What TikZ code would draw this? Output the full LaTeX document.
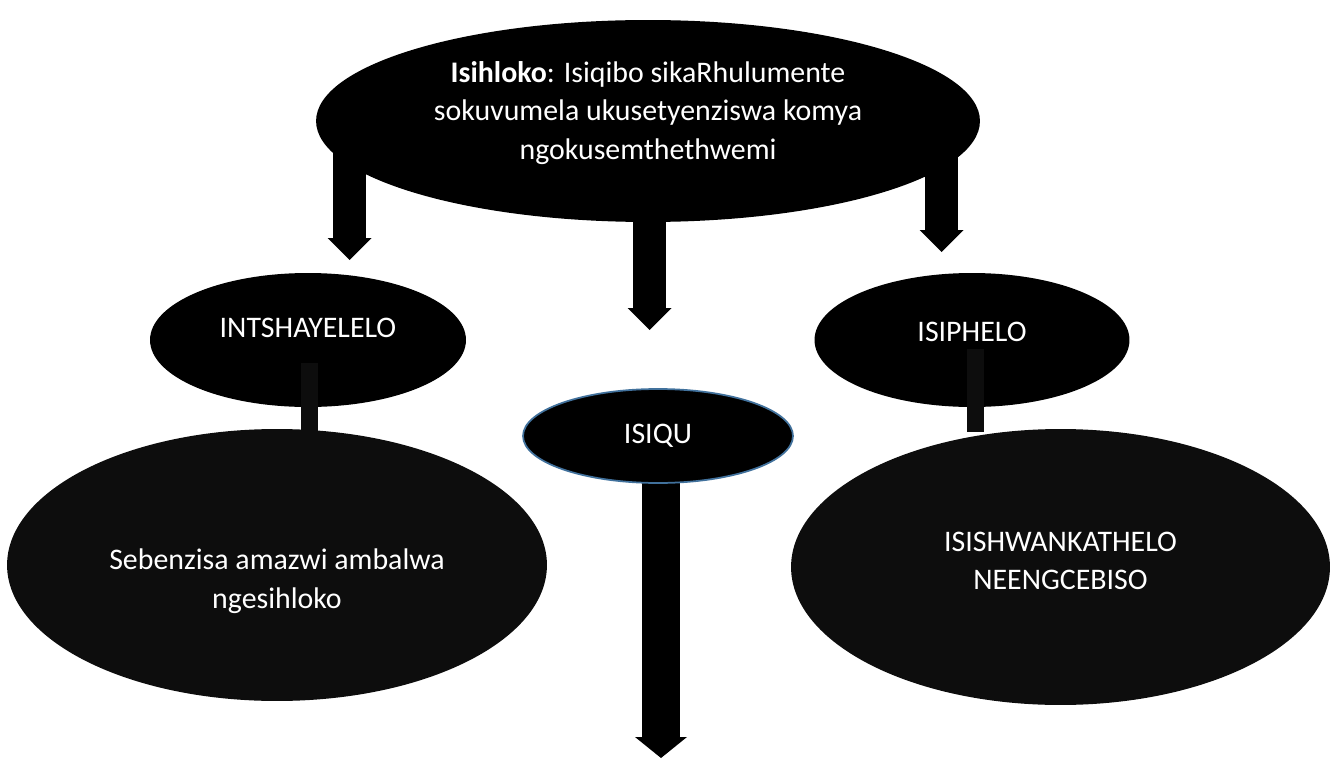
\documentclass[tikz,border=0pt]{standalone}
\usepackage{fontspec}
\setmainfont{Carlito}
\usetikzlibrary{shapes.geometric}
\usetikzlibrary{arrows.meta}
\usetikzlibrary{calc}
\usetikzlibrary{backgrounds}

\definecolor{ink}{HTML}{0D0D0D}
\definecolor{rim}{HTML}{41719C}

\tikzset{
  blob/.style={ellipse,fill=black,inner sep=0pt},
  bigblob/.style={blob,fill=ink},
  word/.style={text=white,inner sep=0pt,align=center,
    font=\fontsize{17}{22}\selectfont},
  fatarrow/.style={line width=0.66cm,
    -{Triangle[length=0.44cm,width=0.88cm,line width=0pt]}},
  downarrow/.style={line width=0.76cm,
    -{Triangle[length=0.42cm,width=1.04cm,line width=0pt]}},
  stem/.style={draw=ink,line width=0.34cm},
}

\begin{document}
\begin{tikzpicture}[x=0.02cm,y=-0.02cm]
  \useasboundingbox (0,0) rectangle (1338,760);

  % ellipses
  \node [blob,minimum width=13.28cm,minimum height=4.04cm] (topic) at (648,121) {};
  \node [blob,minimum width=6.32cm,minimum height=2.68cm] (intro) at (308,340) {};
  \node [blob,minimum width=6.3cm,minimum height=2.68cm] (ending) at (972,340) {};
  \node [blob,draw=rim,line width=0.035cm,minimum width=5.4cm,minimum height=1.88cm] (isiqu) at (658,436) {};
  \node [bigblob,minimum width=10.8cm,minimum height=5.44cm] (introbody) at (277,565) {};
  \node [bigblob,minimum width=10.78cm,minimum height=5.52cm] (endbody) at (1060.5,567) {};

  % texts
  \node [word] (topictext) at ([yshift=0.16cm]topic.center)
    {\textbf{Isihloko}: Isiqibo sikaRhulumente\\sokuvumela ukusetyenziswa komya\\ngokusemthethwemi};
  \node [word] (introtext) at ([yshift=0.24cm]intro.center) {INTSHAYELELO};
  \node [word] (endingtext) at ([yshift=0.16cm]ending.center) {ISIPHELO};
  \node [word] (isiqutext) at (isiqu.center) {ISIQU};
  \node [word] (introbodytext) at ([yshift=-0.32cm]introbody.center)
    {Sebenzisa amazwi ambalwa\\ngesihloko};
  \node [word] (endbodytext) at ([yshift=0.12cm]endbody.center)
    {ISISHWANKATHELO\\NEENGCEBISO};

  % arrow tips and stem tops
  \coordinate (tipintro) at (349.5,260);
  \coordinate (tipisiqu) at (649.5,330);
  \coordinate (tipending) at (941.5,252);
  \coordinate (tipdown) at (661,758);
  \coordinate (stemintro) at (309.5,363);
  \coordinate (stemending) at (975.5,349);

  \begin{scope}[on background layer]
    \draw [fatarrow] (tipintro |- topic.center) -- (tipintro);
    \draw [fatarrow] (tipisiqu |- topic.center) -- (tipisiqu);
    \draw [fatarrow] (tipending |- topic.center) -- (tipending);
    \draw [downarrow] (tipdown |- isiqu.center) -- (tipdown);
  \end{scope}

  % stems into the lower ellipses
  \draw [stem] (stemintro) -- ($(stemintro |- introbody.north)+(0,3)$);
  \draw [stem] (stemending) -- ($(stemending |- endbody.north)+(0,3)$);

\end{tikzpicture}
\end{document}
